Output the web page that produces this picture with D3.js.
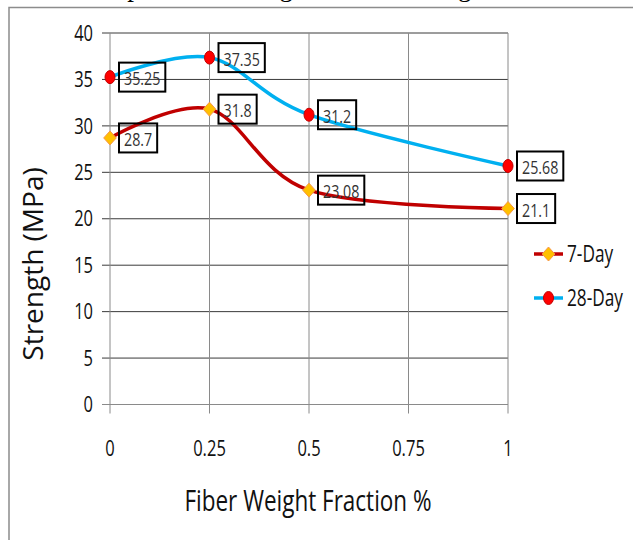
<!DOCTYPE html>
<html><head><meta charset="utf-8">
<script src="https://cdn.jsdelivr.net/npm/d3@7"></script>
<style>
html,body{margin:0;padding:0;background:#fff;}
svg{display:block;}
</style></head>
<body><svg id="c" width="633" height="540"></svg>
<script>
const fractions = [0, 0.25, 0.5, 1];
const day7 = [28.7, 31.8, 23.08, 21.1];
const day28 = [35.25, 37.35, 31.2, 25.68];
const xTicks = [0, 0.25, 0.5, 0.75, 1];
const yTicks = [0, 5, 10, 15, 20, 25, 30, 35, 40];
const seriesNames = ["7-Day", "28-Day"];
const labels7 = ["28.7", "31.8", "23.08", "21.1"];
const labels28 = ["35.25", "37.35", "31.2", "25.68"];

const svg = d3.select("#c");
const F = '"Open Sans","Noto Sans",sans-serif';
const SX = 0.75; // horizontal squeeze of the original picture

function sqText(parent, px, py, str, size, anchor) {
  return parent.append("text")
    .attr("transform", `translate(${px},${py}) scale(${SX},1)`)
    .attr("x", 0).attr("y", 0).attr("dy", "0.35em")
    .attr("text-anchor", anchor || "start")
    .attr("font-family", F).attr("font-size", size).attr("fill", "#111").text(str);
}

// cut-off caption at top and frame
svg.append("text").attr("x", 8).attr("y", -4)
  .attr("font-family", '"Liberation Serif","DejaVu Serif",serif').attr("font-size", 27)
  .attr("fill", "#000").text("Note: Compressive Strength test according to ASTM C39");
svg.append("path").attr("d", "M9,540 V7.5 H633").attr("fill", "none")
  .attr("stroke", "#8c8c8c").attr("stroke-width", 1.5);

const x = d3.scaleLinear().domain([0, 1]).range([110, 508]);
const y = d3.scaleLinear().domain([0, 40]).range([404.5, 33]);

// horizontal gridlines
svg.append("g").selectAll("line").data(yTicks.filter(d => d > 0)).join("line")
  .attr("x1", x(0) - 8).attr("x2", x(1))
  .attr("y1", d => y(d)).attr("y2", d => y(d))
  .attr("stroke", "#3a3a3a").attr("stroke-width", 1);
// vertical gridlines
svg.append("g").selectAll("line").data(xTicks).join("line")
  .attr("x1", d => x(d)).attr("x2", d => x(d))
  .attr("y1", y(40)).attr("y2", y(0) + 9)
  .attr("stroke", "#8a8a8a").attr("stroke-width", 1);
// x axis line
svg.append("line").attr("x1", x(0) - 8).attr("x2", x(1))
  .attr("y1", y(0)).attr("y2", y(0)).attr("stroke", "#8a8a8a").attr("stroke-width", 1.2);

// tick labels
const gy = svg.append("g");
yTicks.forEach(d => sqText(gy, 93, y(d), d, 22, "end"));
const gx = svg.append("g");
xTicks.forEach(d => sqText(gx, x(d), 448, d, 22, "middle"));

// axis titles
sqText(svg, 308, 500, "Fiber Weight Fraction %", 30, "middle");
svg.append("text").attr("transform", "translate(33,264) rotate(-90)").attr("dy", "0.35em")
  .attr("text-anchor", "middle").attr("font-family", F)
  .attr("font-size", 28).attr("fill", "#111").text("Strength (MPa)");

const line = d3.line().x(d => x(d[0])).y(d => y(d[1])).curve(d3.curveCardinal.tension(0));
const s7 = fractions.map((f, i) => [f, day7[i]]);
const s28 = fractions.map((f, i) => [f, day28[i]]);
const c7 = "#C00000", c28 = "#00B0F0";

svg.append("path").datum(s28).attr("d", line).attr("fill", "none")
  .attr("stroke", c28).attr("stroke-width", 3.5);
svg.append("path").datum(s7).attr("d", line).attr("fill", "none")
  .attr("stroke", c7).attr("stroke-width", 3.5);

const diamond = (cx, cy, r) => `M${cx},${cy - r}L${cx + r * 0.9},${cy}L${cx},${cy + r}L${cx - r * 0.9},${cy}Z`;
function marker(g, cx, cy, type) {
  if (type === "d") {
    g.append("path").attr("d", diamond(cx, cy, 7))
      .attr("fill", "#FFC000").attr("stroke", "#F79646").attr("stroke-width", 1);
  } else {
    g.append("ellipse").attr("cx", cx).attr("cy", cy).attr("rx", 5).attr("ry", 6.5)
      .attr("fill", "#FF0000").attr("stroke", "#C00000").attr("stroke-width", 1);
  }
}
const gm = svg.append("g");
s28.forEach(d => marker(gm, x(d[0]), y(d[1]), "c"));
s7.forEach(d => marker(gm, x(d[0]), y(d[1]), "d"));

// data labels
function dataLabels(data, texts) {
  data.forEach((d, i) => {
    const g = svg.append("g");
    const t = sqText(g, x(d[0]) + 14, y(d[1]) + 1.5, texts[i], 19, "start").attr("fill", "#333");
    const w = t.node().getBBox().width * SX;
    g.insert("rect", "text").attr("x", x(d[0]) + 9).attr("y", y(d[1]) - 14.5)
      .attr("width", w + 10).attr("height", 29)
      .attr("fill", "none").attr("stroke", "#000").attr("stroke-width", 2);
  });
}
dataLabels(s28, labels28);
dataLabels(s7, labels7);

// legend
const legend = svg.append("g");
[[c7, "d", 254], [c28, "c", 298]].forEach((L, i) => {
  legend.append("line").attr("x1", 534).attr("x2", 563).attr("y1", L[2]).attr("y2", L[2])
    .attr("stroke", L[0]).attr("stroke-width", 3.5);
  marker(legend, 548.5, L[2], L[1]);
  sqText(legend, 567, L[2], seriesNames[i], 23, "start");
});
</script></body></html>
